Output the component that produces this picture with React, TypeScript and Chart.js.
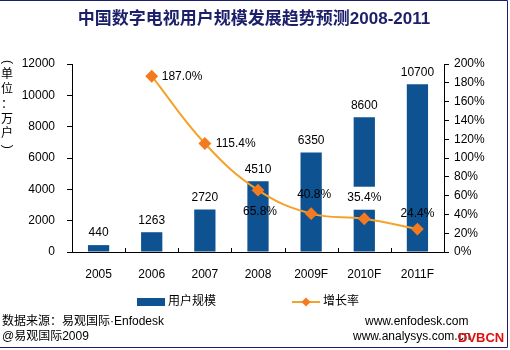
import React, { useEffect, useRef } from "react";
import { Chart, registerables } from "chart.js";

Chart.register(...registerables);

const categories = ["2005", "2006", "2007", "2008", "2009F", "2010F", "2011F"];
const users = [440, 1263, 2720, 4510, 6350, 8600, 10700];
const growth = [null, 187.0, 115.4, 65.8, 40.8, 35.4, 24.4];
const growthLabels = ["", "187.0%", "115.4%", "65.8%", "40.8%", "35.4%", "24.4%"];
const leftMax = 12000;
const leftStep = 2000;
const rightMax = 200;
const rightStep = 20;

const titleText = "中国数字电视用户规模发展趋势预测2008-2011";
const unitChars = ["(", "单", "位", "：", "万", "户", ")"];
const legendBar = "用户规模";
const legendLine = "增长率";
const sourceText = "数据来源：易观国际·Enfodesk";
const copyText = "@易观国际2009";
const site1 = "www.enfodesk.com";
const site2 = "www.analysys.com.cn";
const mark = "DVBCN";

const FONT = "'Liberation Sans', Arial, 'Noto Sans CJK SC', sans-serif";
const BAR = "#0F5291";
const LINE = "#F5A22A";
const POINT = "#F47A20";
const NAVY = "#1C1F6A";

// label placement for growth labels: [align, dx, dy, whiteBg]
const growthPlace: [CanvasTextAlign, number, number, boolean][] = [
  ["center", 0, 0, false],
  ["left", 10, 0, false],
  ["left", 11, 0, false],
  ["center", 2, 22, false],
  ["center", 3, -19, false],
  ["center", 0, -21, true],
  ["center", 0, -15, false],
];

const decor = {
  id: "decor",
  afterDatasetsDraw(chart: any) {
    const ctx = chart.ctx as CanvasRenderingContext2D;
    const area = chart.chartArea;
    ctx.save();
    const n = categories.length;
    const w = (area.right - area.left) / n;
    ctx.strokeStyle = "#000";
    ctx.lineWidth = 1;
    for (let i = 1; i < n; i++) {
      const x = Math.round(area.left + i * w) + 0.5;
      ctx.beginPath();
      ctx.moveTo(x, area.bottom);
      ctx.lineTo(x, area.bottom - 4);
      ctx.stroke();
    }
    ctx.font = `12px ${FONT}`;
    ctx.fillStyle = "#000";
    ctx.textBaseline = "middle";
    ctx.textAlign = "center";
    const barMeta = chart.getDatasetMeta(0);
    barMeta.data.forEach((el: any, i: number) => {
      ctx.fillText(String(users[i]), el.x, el.y - 12);
    });
    const lineMeta = chart.getDatasetMeta(1);
    lineMeta.data.forEach((el: any, i: number) => {
      if (growth[i] == null) return;
      const [align, dx, dy, bg] = growthPlace[i];
      const tx = el.x + dx;
      const ty = el.y + dy;
      const tw = ctx.measureText(growthLabels[i]).width;
      if (bg) {
        ctx.fillStyle = "#fff";
        const lx = align === "center" ? tx - tw / 2 - 3 : tx - 3;
        ctx.fillRect(lx, ty - 11, tw + 6, 23);
      }
      ctx.fillStyle = "#000";
      ctx.textAlign = align;
      ctx.fillText(growthLabels[i], tx, ty);
    });
    ctx.restore();
  },
  afterDraw(chart: any) {
    const ctx = chart.ctx as CanvasRenderingContext2D;
    ctx.save();
    ctx.font = `bold 17px ${FONT}`;
    ctx.fillStyle = NAVY;
    ctx.textAlign = "center";
    ctx.textBaseline = "middle";
    ctx.fillText(titleText, 254, 19);
    // unit (vertical)
    ctx.font = `12px ${FONT}`;
    ctx.fillStyle = "#000";
    unitChars.forEach((c, i) => {
      const y = 60 + i * 14.8;
      if (c === "(" || c === ")") {
        ctx.save();
        ctx.translate(7, c === "(" ? y + 2 : y - 2);
        ctx.rotate(Math.PI / 2);
        ctx.fillText(c, 0, 0);
        ctx.restore();
      } else {
        ctx.fillText(c, 7, y);
      }
    });
    // legend
    ctx.fillStyle = BAR;
    ctx.fillRect(137, 298, 28, 8);
    ctx.fillStyle = "#000";
    ctx.textAlign = "left";
    ctx.font = `12px ${FONT}`;
    ctx.fillText(legendBar, 168, 302);
    ctx.strokeStyle = LINE;
    ctx.lineWidth = 2;
    ctx.beginPath();
    ctx.moveTo(292, 302);
    ctx.lineTo(320, 302);
    ctx.stroke();
    ctx.fillStyle = POINT;
    ctx.beginPath();
    ctx.moveTo(306, 297.5);
    ctx.lineTo(310.5, 302);
    ctx.lineTo(306, 306.5);
    ctx.lineTo(301.5, 302);
    ctx.closePath();
    ctx.fill();
    ctx.fillStyle = "#000";
    ctx.fillText(legendLine, 323, 302);
    // footer
    ctx.font = `12px ${FONT}`;
    ctx.fillText(sourceText, 2, 322);
    ctx.fillText(copyText, 2, 337);
    ctx.fillText(site1, 365, 322);
    ctx.fillText(site2, 353, 337);
    ctx.font = `bold 13px ${FONT}`;
    ctx.fillStyle = "#E01010";
    ctx.fillText(mark, 458, 338);
    // border
    ctx.strokeStyle = NAVY;
    ctx.lineWidth = 1;
    ctx.beginPath();
    ctx.moveTo(0, 0.5);
    ctx.lineTo(507.5, 0.5);
    ctx.lineTo(507.5, 347.5);
    ctx.lineTo(0, 347.5);
    ctx.stroke();
    ctx.restore();
  },
};

export default function App() {
  const ref = useRef<HTMLCanvasElement | null>(null);
  useEffect(() => {
    document.body.style.margin = "0";
    const canvas = ref.current!;
    const chart = new Chart(canvas, {
      type: "bar",
      data: {
        labels: categories,
        datasets: [
          {
            type: "bar",
            label: legendBar,
            data: users,
            backgroundColor: BAR,
            borderWidth: 0,
            barPercentage: 0.4,
            categoryPercentage: 1,
            yAxisID: "y",
            order: 2,
          },
          {
            type: "line",
            label: legendLine,
            data: growth as any,
            borderColor: LINE,
            borderWidth: 2,
            backgroundColor: POINT,
            pointBackgroundColor: POINT,
            pointBorderColor: POINT,
            pointStyle: "rectRot",
            pointRadius: 5,
            tension: 0.4,
            spanGaps: true,
            yAxisID: "y1",
            order: 1,
          },
        ],
      },
      options: {
        responsive: false,
        animation: false,
        devicePixelRatio: 1,
        layout: { padding: { top: 64, bottom: 68, left: 0, right: 0 } },
        plugins: {
          legend: { display: false },
          tooltip: { enabled: false },
          title: { display: false },
        },
        scales: {
          x: {
            offset: true,
            grid: { display: false, drawTicks: false },
            border: { display: true, color: "#000" },
            ticks: { color: "#000", font: { size: 12, family: FONT }, padding: 15 },
            afterFit: (s: any) => {
              s.height = 30;
            },
          },
          y: {
            position: "left",
            min: 0,
            max: leftMax,
            ticks: {
              stepSize: leftStep,
              color: "#000",
              font: { size: 12, family: FONT },
              padding: 12,
              callback: (v: any) => String(v),
            },
            grid: { drawOnChartArea: false, drawTicks: true, tickLength: 5, color: "#000" },
            border: { display: true, color: "#000" },
            afterFit: (s: any) => {
              s.width = 72;
            },
          },
          y1: {
            position: "right",
            min: 0,
            max: rightMax,
            ticks: {
              stepSize: rightStep,
              color: "#000",
              font: { size: 12, family: FONT },
              padding: 5,
              callback: (v: any) => v + "%",
            },
            grid: { drawOnChartArea: false, drawTicks: true, tickLength: 5, color: "#000" },
            border: { display: true, color: "#000" },
            afterFit: (s: any) => {
              s.width = 66;
            },
          },
        },
      },
      plugins: [decor],
    });
    return () => chart.destroy();
  }, []);
  return (
    <div style={{ position: "absolute", left: 0, top: 0, width: 510, height: 350, background: "#fff" }}>
      <canvas ref={ref} width={510} height={350} />
    </div>
  );
}
